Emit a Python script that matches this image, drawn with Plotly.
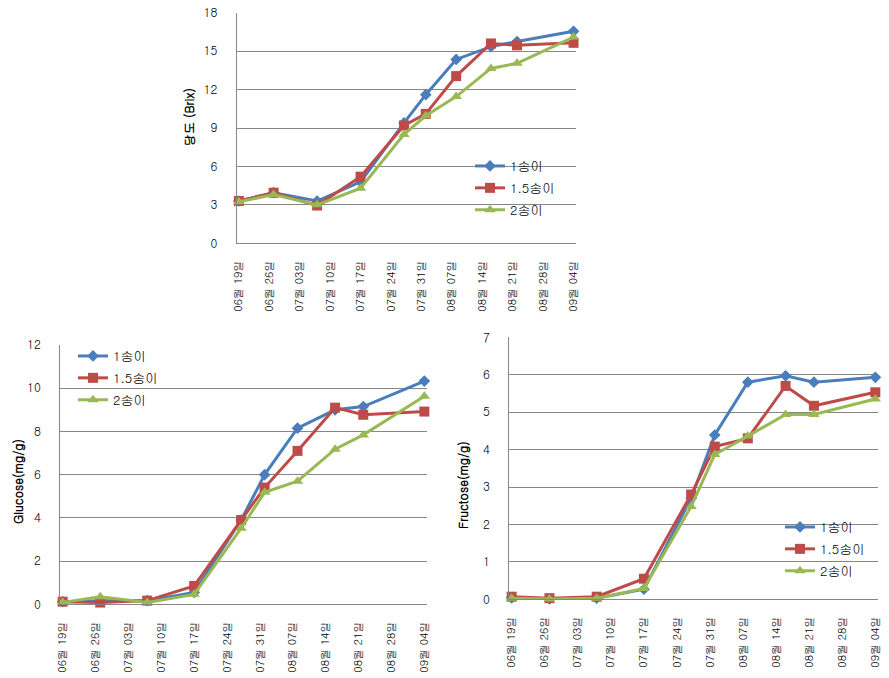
import plotly.graph_objects as go

# ---- data ----
dates = ["2012-06-19", "2012-06-27", "2012-07-07", "2012-07-17", "2012-07-27",
         "2012-08-01", "2012-08-08", "2012-08-16", "2012-08-22", "2012-09-04"]
tick_dates = ["2012-06-19", "2012-06-26", "2012-07-03", "2012-07-10", "2012-07-17",
              "2012-07-24", "2012-07-31", "2012-08-07", "2012-08-14", "2012-08-21",
              "2012-08-28", "2012-09-04"]
tick_labels = ["06월 19일", "06월 26일", "07월 03일", "07월 10일", "07월 17일",
               "07월 24일", "07월 31일", "08월 07일", "08월 14일", "08월 21일",
               "08월 28일", "09월 04일"]
series_names = ["1송이", "1.5송이", "2송이"]

brix_1 = [3.3, 3.95, 3.3, 4.8, 9.4, 11.6, 14.35, 15.35, 15.75, 16.55]
brix_15 = [3.3, 3.95, 2.95, 5.2, 9.2, 10.1, 13.05, 15.6, 15.45, 15.65]
brix_2 = [3.25, 3.8, 3.0, 4.3, 8.5, 9.95, 11.45, 13.65, 14.05, 16.1]

glu_1 = [0.12, 0.17, 0.17, 0.55, 3.9, 6.0, 8.15, 9.0, 9.15, 10.33]
glu_15 = [0.12, 0.08, 0.17, 0.85, 3.9, 5.4, 7.1, 9.1, 8.77, 8.92]
glu_2 = [0.09, 0.35, 0.08, 0.46, 3.52, 5.18, 5.7, 7.18, 7.84, 9.63]

fru_1 = [0.04, 0.01, 0.03, 0.27, 2.7, 4.39, 5.8, 5.97, 5.8, 5.93]
fru_15 = [0.07, 0.03, 0.07, 0.55, 2.8, 4.08, 4.3, 5.7, 5.17, 5.53]
fru_2 = [0.03, 0.01, 0.03, 0.29, 2.48, 3.87, 4.36, 4.94, 4.94, 5.35]

# ---- style ----
W, H = 889, 678
colors = ["#4A7EBB", "#BE4B48", "#98B954"]
symbols = ["diamond", "square", "triangle-up"]
msizes = [9, 10, 10]
FONT = "Gulim, Dotum, 'Noto Sans CJK KR', sans-serif"
GRID = "#868686"

def px(x0, x1):
    return [x0 / W, x1 / W]

def py(top, bottom):
    return [1 - bottom / H, 1 - top / H]

panels = [
    dict(x="x", y="y", leg="legend", data=[brix_1, brix_15, brix_2],
         xd=px(236.7, 575.7), yd=py(12.7, 243.3), yr=[0, 18], dt=3),
    dict(x="x2", y="y2", leg="legend2", data=[glu_1, glu_15, glu_2],
         xd=px(60.3, 426.7), yd=py(345, 604.3), yr=[0, 12], dt=2),
    dict(x="x3", y="y3", leg="legend3", data=[fru_1, fru_15, fru_2],
         xd=px(509.3, 877.7), yd=py(337.3, 599.3), yr=[0, 7], dt=1),
]

fig = go.Figure()
for p in panels:
    for i, (name, vals) in enumerate(zip(series_names, p["data"])):
        fig.add_trace(go.Scatter(
            x=dates, y=vals, name=name, mode="lines+markers",
            xaxis=p["x"], yaxis=p["y"], legend=p["leg"],
            legendgroup=p["leg"] + str(i),
            line=dict(color=colors[i], width=3),
            marker=dict(symbol=symbols[i], size=msizes[i], color=colors[i]),
            cliponaxis=False,
        ))

layout = dict(
    width=W, height=H, margin=dict(l=0, r=0, t=0, b=0, autoexpand=False),
    paper_bgcolor="white", plot_bgcolor="white",
    font=dict(family=FONT, size=12, color="black"),
    showlegend=True,
)
for k, p in enumerate(panels):
    sx = "" if k == 0 else str(k + 1)
    layout["xaxis" + sx] = dict(
        domain=p["xd"], anchor=p["y"], type="date", automargin=False,
        range=["2012-06-18 12:00", "2012-09-04 12:00"],
        tickmode="array", tickvals=tick_dates, ticktext=tick_labels,
        tickangle=-90, showgrid=False, zeroline=False,
        showline=True, linecolor=GRID, linewidth=1,
        ticks="", ticklabelstandoff=12,
        tickfont=dict(family=FONT, size=11),
    )
    layout["yaxis" + sx] = dict(
        domain=p["yd"], anchor=p["x"], range=p["yr"], dtick=p["dt"], automargin=False,
        showgrid=True, gridcolor=GRID, gridwidth=1, zeroline=False,
        showline=True, linecolor=GRID, linewidth=1,
        ticks="", ticklabelstandoff=16,
        tickfont=dict(family=FONT, size=12),
    )

leg_common = dict(bgcolor="rgba(0,0,0,0)", borderwidth=0, tracegroupgap=2,
                  font=dict(family=FONT, size=13), xanchor="left", yanchor="top",
                  itemwidth=30)
layout["legend"] = dict(leg_common, x=470 / W, y=1 - 151 / H)
layout["legend2"] = dict(leg_common, x=73 / W, y=1 - 341 / H)
layout["legend3"] = dict(leg_common, x=780 / W, y=1 - 512 / H)

fig.update_layout(**layout)

titles = [("당도 (Brix)", 189, 117), ("Glucose(mg/g)", 17, 482), ("Fructose(mg/g)", 462, 485)]
for t, x, y in titles:
    fig.add_annotation(text="<b>" + t + "</b>", x=x / W, y=1 - y / H,
                       xref="paper", yref="paper", showarrow=False, textangle=-90,
                       font=dict(family=FONT, size=12, color="black"),
                       xanchor="center", yanchor="middle")

fig.write_html("out.html", config={"displayModeBar": False},
               post_script="document.body.style.margin='0px';document.body.style.overflow='hidden';")
